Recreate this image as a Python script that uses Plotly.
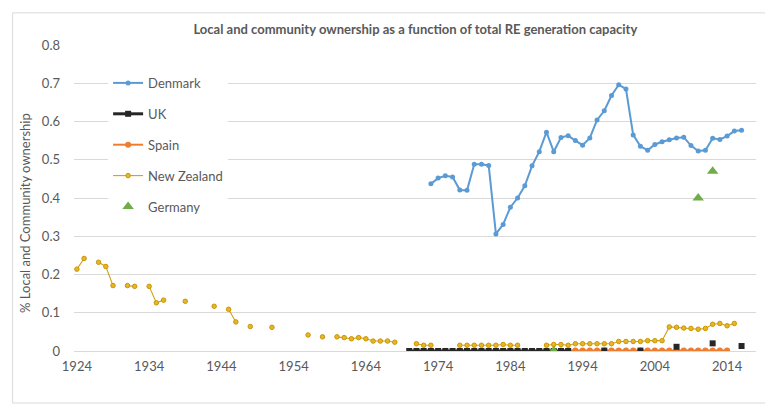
import plotly.graph_objects as go

# ---------------- data ----------------
denmark_years = list(range(1973, 2017))
denmark_vals = [0.437, 0.452, 0.458, 0.455, 0.421, 0.420, 0.488, 0.488, 0.485, 0.306,
                0.331, 0.376, 0.400, 0.432, 0.484, 0.521, 0.572, 0.521, 0.558, 0.563,
                0.550, 0.538, 0.557, 0.604, 0.628, 0.668, 0.696, 0.685, 0.565, 0.535,
                0.525, 0.540, 0.547, 0.552, 0.557, 0.559, 0.537, 0.523, 0.525, 0.556,
                0.553, 0.562, 0.575, 0.577]

uk_years = list(range(1970, 2017))
uk_vals = ([0.0] * 23            # 1970-1992
           + [None] * 4          # 1993-1996
           + [0.001]             # 1997
           + [None] * 4          # 1998-2001
           + [0.001]             # 2002
           + [None] * 4          # 2003-2006
           + [0.011]             # 2007
           + [None] * 4          # 2008-2011
           + [0.020]             # 2012
           + [None] * 3          # 2013-2015
           + [0.013])            # 2016

spain_years = list(range(1991, 2015))
spain_vals = [0.001] * 24

nz_years = list(range(1924, 2016))
nz_vals = [0.214, 0.242, None, 0.232, 0.221, 0.171, None, 0.171, 0.169, None,   # 1924-1933
           0.169, 0.126, 0.133, None, None, 0.130, None, None, None, 0.117,      # 1934-1943
           None, 0.109, 0.076, None, 0.064, None, None, 0.062, None, None,       # 1944-1953
           None, None, 0.042, None, 0.037, None, 0.037, 0.035, 0.032, 0.035,     # 1954-1963
           0.032, 0.026, 0.026, 0.026, 0.023, None, None, 0.019, 0.015, 0.015,   # 1964-1973
           None, None, None, 0.015, 0.015, 0.015, 0.015, 0.015, 0.015, 0.017,    # 1974-1983
           0.015, 0.015, None, None, None, 0.015, 0.017, 0.017, 0.015, 0.019,    # 1984-1993
           0.019, 0.019, 0.019, 0.019, 0.019, 0.025, 0.025, 0.025, 0.025, 0.027, # 1994-2003
           0.027, 0.027, 0.063, 0.062, 0.060, 0.059, 0.057, 0.059, 0.070, 0.072, # 2004-2013
           0.066, 0.072]                                                          # 2014-2015

germany_years = [1990, 2010, 2012]
germany_vals = [0.0, 0.40, 0.47]

x_tick_vals = list(range(1924, 2024, 10))
y_tick_vals = [0, 0.1, 0.2, 0.3, 0.4, 0.5, 0.6, 0.7, 0.8]
y_tick_text = ["0", "0.1", "0.2", "0.3", "0.4", "0.5", "0.6", "0.7", "0.8"]

title_text = "Local and community ownership as a function of total RE generation capacity"
y_title = "% Local and Community ownership"

# ---------------- figure ----------------
FONT = "Lato, 'Open Sans', sans-serif"
GRAY = "#595959"

fig = go.Figure()

fig.add_trace(go.Scatter(
    x=denmark_years, y=denmark_vals, name="Denmark", mode="lines+markers",
    line=dict(color="#5b9bd5", width=2), marker=dict(size=5, color="#5b9bd5"),
    legendrank=1, legendgroup="a"))

fig.add_trace(go.Scatter(
    x=spain_years, y=spain_vals, name="Spain", mode="lines+markers",
    line=dict(color="#ed7d31", width=2), marker=dict(size=6, color="#ed7d31"),
    legendrank=3, legendgroup="c"))

fig.add_trace(go.Scatter(
    x=uk_years, y=uk_vals, name="UK", mode="lines+markers", connectgaps=False,
    line=dict(color="#262626", width=3),
    marker=dict(size=6, symbol="square", color="#262626"),
    legendrank=2, legendgroup="b"))

fig.add_trace(go.Scatter(
    x=nz_years, y=nz_vals, name="New Zealand", mode="lines+markers", connectgaps=False,
    line=dict(color="#d4a017", width=1.1),
    marker=dict(size=4.5, color="#e8b52a", line=dict(color="#c99700", width=1)),
    legendrank=4, legendgroup="d"))

fig.add_trace(go.Scatter(
    x=germany_years, y=germany_vals, name="Germany", mode="markers",
    marker=dict(size=10, symbol="triangle-up", color="#70ad47"),
    legendrank=5, legendgroup="e"))

fig.update_layout(
    width=773, height=410,
    margin=dict(l=66, r=25, t=37, b=67),
    paper_bgcolor="white", plot_bgcolor="white",
    font=dict(family=FONT, size=13, color=GRAY),
    title=dict(text="<b>" + title_text + "</b>", x=0.527, xanchor="center",
               y=0.947, yanchor="middle", font=dict(size=13, color=GRAY, family=FONT)),
    showlegend=True,
    legend=dict(x=0.05, y=0.925, xanchor="left", yanchor="top",
                bgcolor="white", font=dict(size=13, color=GRAY, family=FONT),
                tracegroupgap=11, itemwidth=30),
    xaxis=dict(range=[1923.6, 2018], tickvals=x_tick_vals,
               showgrid=False, zeroline=False, showline=True,
               linecolor="#d9d9d9", linewidth=1, ticks="",
               tickfont=dict(size=13, color=GRAY), ticklabelstandoff=3),
    yaxis=dict(range=[0, 0.8], tickvals=y_tick_vals, ticktext=y_tick_text,
               showgrid=True, gridcolor="#d9d9d9", gridwidth=1,
               zeroline=False, showline=False, ticks="",
               tickfont=dict(size=13, color=GRAY), ticklabelstandoff=13),
    shapes=[dict(type="rect", xref="paper", yref="paper",
                 x0=-0.090, x1=1.03, y0=-0.170, y1=1.105,
                 line=dict(color="#d9d9d9", width=1), fillcolor="rgba(0,0,0,0)",
                 layer="below")],
    annotations=[dict(text=y_title, textangle=-90, xref="paper", yref="paper",
                      x=-0.072, y=0.451, xanchor="center", yanchor="middle",
                      showarrow=False, font=dict(size=13, color=GRAY, family=FONT))],
)

fig.write_html("out.html")
